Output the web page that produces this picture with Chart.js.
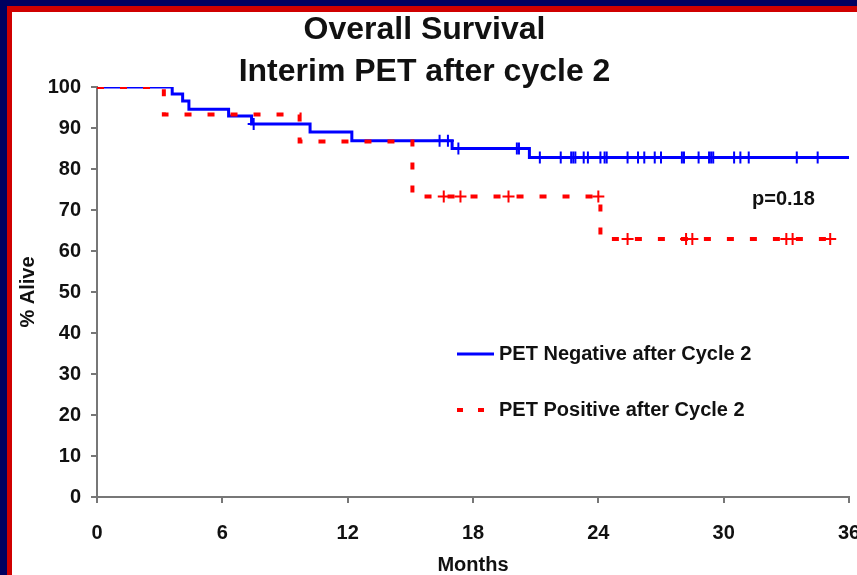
<!DOCTYPE html>
<html>
<head>
<meta charset="utf-8">
<title>Overall Survival - Interim PET after cycle 2</title>
<script src="https://cdn.jsdelivr.net/npm/chart.js@4.4.1/dist/chart.umd.min.js"></script>
<style>
  html, body { margin: 0; padding: 0; background: #fff; }
  #wrap { width: 857px; height: 575px; }
</style>
</head>
<body>
<div id="wrap"><canvas id="osChart" width="857" height="575"></canvas></div>
<script>
// Kaplan-Meier steps: month of each drop and % alive from then on
var negMonths = [0, 3.6, 4.1, 4.4, 6.3, 7.4, 10.2, 12.2, 17.0, 20.7, 36];
var negAlive = [100, 98.3, 96.6, 94.6, 92.9, 91.0, 89.0, 86.9, 85.0, 82.8, 82.8];
var negCensored = [7.5, 16.4, 16.8, 17.3, 20.1, 20.2, 21.2, 22.2, 22.7, 22.8, 22.9, 23.3, 23.5,
  24.1, 24.3, 24.4, 25.4, 25.9, 26.2, 26.7, 27.0, 28.0, 28.1, 28.8, 29.3, 29.4, 29.5,
  30.5, 30.8, 31.2, 33.5, 34.5];

var posMonths = [0, 3.2, 9.7, 15.1, 24.1, 35.1];
var posAlive = [100, 93.3, 86.7, 73.3, 62.9, 62.9];
var posCensored = [16.6, 17.4, 19.7, 24.0, 25.4, 28.2, 28.5, 33.0, 33.3, 35.1];

var xTicks = [0, 6, 12, 18, 24, 30, 36];
var yTicks = [0, 10, 20, 30, 40, 50, 60, 70, 80, 90, 100];

var seriesLabels = ["PET Negative after Cycle 2", "PET Positive after Cycle 2"];
var pValue = "p=0.18";

var BLUE = "#0000ff";
var RED = "#ff0000";

// survival level at month t (for placing the censor crosses)
function aliveAt(months, alive, t) {
  var v = alive[0];
  for (var i = 0; i < months.length; i++) {
    if (months[i] <= t) v = alive[i];
  }
  return v;
}

function steps(months, alive) {
  return months.map(function (m, i) { return { x: m, y: alive[i] }; });
}

function crosses(list, months, alive) {
  return list.map(function (m) { return { x: m, y: aliveAt(months, alive, m) }; });
}

Chart.defaults.font.family = "'Liberation Sans', Arial, sans-serif";
Chart.defaults.color = "#111";

// navy / red slide frame behind the chart
var framePlugin = {
  id: "frame",
  beforeDraw: function (chart) {
    var ctx = chart.ctx;
    ctx.save();
    ctx.fillStyle = "#000060";
    ctx.fillRect(0, 0, chart.width, chart.height);
    ctx.fillStyle = "#d00000";
    ctx.fillRect(7, 6, chart.width - 7, chart.height - 6);
    ctx.fillStyle = "#ffffff";
    ctx.fillRect(12, 12, chart.width - 12, chart.height - 12);
    ctx.restore();
  }
};

// legend inside the plot plus the p-value
var notesPlugin = {
  id: "notes",
  afterDraw: function (chart) {
    var ctx = chart.ctx;
    ctx.save();
    ctx.font = "bold 20px 'Liberation Sans', Arial, sans-serif";
    ctx.fillStyle = "#111";
    ctx.textBaseline = "middle";

    var rows = [354, 410];
    for (var i = 0; i < 2; i++) {
      var ds = chart.data.datasets[i];
      ctx.strokeStyle = ds.borderColor;
      ctx.lineWidth = ds.borderWidth;
      ctx.setLineDash(ds.borderDash ? [6, 15] : []);
      ctx.beginPath();
      ctx.moveTo(457, rows[i]);
      ctx.lineTo(494, rows[i]);
      ctx.stroke();
      ctx.setLineDash([]);
      ctx.fillText(ds.label, 499, rows[i]);
    }

    ctx.fillText(pValue, 752, 199);
    ctx.restore();
  }
};

new Chart("osChart", {
  type: "line",
  data: {
    datasets: [{
      label: seriesLabels[0],
      data: steps(negMonths, negAlive),
      stepped: "before",
      borderColor: BLUE,
      borderWidth: 3,
      pointRadius: 0,
      fill: false,
      order: 3
    }, {
      label: seriesLabels[1],
      data: steps(posMonths, posAlive),
      stepped: "before",
      borderColor: RED,
      borderWidth: 4,
      borderDash: [7, 16],
      pointRadius: 0,
      fill: false,
      order: 1
    }, {
      label: "",
      data: crosses(negCensored, negMonths, negAlive),
      showLine: false,
      pointStyle: "cross",
      pointRadius: 6,
      borderColor: BLUE,
      pointBorderWidth: 2,
      order: 2
    }, {
      label: "",
      data: crosses(posCensored, posMonths, posAlive),
      showLine: false,
      pointStyle: "cross",
      pointRadius: 6,
      borderColor: RED,
      pointBorderWidth: 2,
      order: 0
    }]
  },
  options: {
    responsive: false,
    animation: false,
    layout: { padding: { left: 0, right: 8, top: 0, bottom: 0 } },
    plugins: {
      legend: { display: false },
      tooltip: { enabled: false },
      title: {
        display: true,
        text: ["Overall Survival", "Interim PET after cycle 2"],
        color: "#111",
        font: { size: 32, weight: "bold", lineHeight: 1.3125 },
        padding: { top: 9, bottom: -6 }
      }
    },
    scales: {
      x: {
        type: "linear",
        min: 0,
        max: 36,
        afterBuildTicks: function (scale) {
          scale.ticks = xTicks.map(function (v) { return { value: v }; });
        },
        afterFit: function (scale) {
          scale.height = 78;
          scale.paddingLeft = 0;
          scale.paddingRight = 0;
        },
        border: { color: "#777", width: 2 },
        grid: { drawOnChartArea: false, tickLength: 6, color: "#777", lineWidth: 2 },
        ticks: { padding: 18, color: "#111", font: { size: 20, weight: "bold" }, maxRotation: 0 },
        title: {
          display: true,
          text: "Months",
          color: "#111",
          font: { size: 20, weight: "bold", lineHeight: 1 },
          padding: 0
        }
      },
      y: {
        min: 0,
        max: 100,
        afterBuildTicks: function (scale) {
          scale.ticks = yTicks.map(function (v) { return { value: v }; });
        },
        afterFit: function (scale) {
          scale.width = 97;
        },
        border: { color: "#777", width: 2 },
        grid: { drawOnChartArea: false, tickLength: 6, color: "#777", lineWidth: 2 },
        ticks: { padding: 10, color: "#111", font: { size: 20, weight: "bold" } },
        title: {
          display: true,
          text: "% Alive",
          color: "#111",
          font: { size: 20, weight: "bold", lineHeight: 1.2 },
          padding: { top: 16, bottom: 0 }
        }
      }
    }
  },
  plugins: [framePlugin, notesPlugin]
});
</script>
</body>
</html>
